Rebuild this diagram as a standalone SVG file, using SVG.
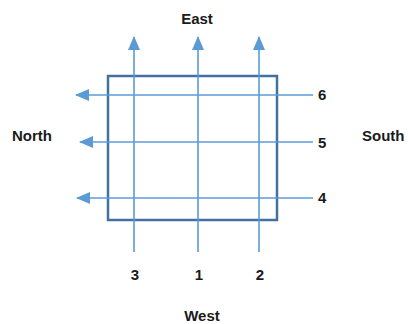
<svg xmlns="http://www.w3.org/2000/svg" width="408" height="324" viewBox="0 0 408 324">
<style>
.lbl{font-family:"Liberation Sans",Arial,sans-serif;font-weight:bold;font-size:15px;fill:#1a1a1a}
.ar{stroke:#5b9bd5;stroke-width:1.6;fill:none}
</style>
<defs>
<marker id="ah" markerWidth="14" markerHeight="12" refX="13" refY="6" orient="auto" markerUnits="userSpaceOnUse">
<path d="M0,0 L14,6 L0,12 Z" fill="#5b9bd5"/>
</marker>
</defs>
<rect width="408" height="324" fill="#ffffff"/>
<g id="box">
<rect x="108" y="76" width="169" height="144" fill="none" stroke="#41719c" stroke-width="2.5"/>
</g>
<g id="connectors">
<line class="ar" x1="134" y1="252" x2="134" y2="37" marker-end="url(#ah)"/>
<line class="ar" x1="198" y1="252" x2="198" y2="37" marker-end="url(#ah)"/>
<line class="ar" x1="259" y1="252" x2="259" y2="37" marker-end="url(#ah)"/>
<line class="ar" x1="313" y1="95" x2="76" y2="95" marker-end="url(#ah)"/>
<line class="ar" x1="313" y1="142" x2="80" y2="142" marker-end="url(#ah)"/>
<line class="ar" x1="313" y1="198" x2="77" y2="198" marker-end="url(#ah)"/>
</g>
<g id="east"><text class="lbl" x="197" y="24" text-anchor="middle">East</text></g>
<g id="west"><text class="lbl" x="202" y="321" text-anchor="middle">West</text></g>
<g id="north"><text class="lbl" x="12" y="141">North</text></g>
<g id="south"><text class="lbl" x="362" y="141">South</text></g>
<g id="n6"><text class="lbl" x="318" y="100">6</text></g>
<g id="n5"><text class="lbl" x="318" y="148">5</text></g>
<g id="n4"><text class="lbl" x="318" y="203">4</text></g>
<g id="n3"><text class="lbl" x="135" y="280" text-anchor="middle">3</text></g>
<g id="n1"><text class="lbl" x="199" y="280" text-anchor="middle">1</text></g>
<g id="n2"><text class="lbl" x="260" y="280" text-anchor="middle">2</text></g>
</svg>
